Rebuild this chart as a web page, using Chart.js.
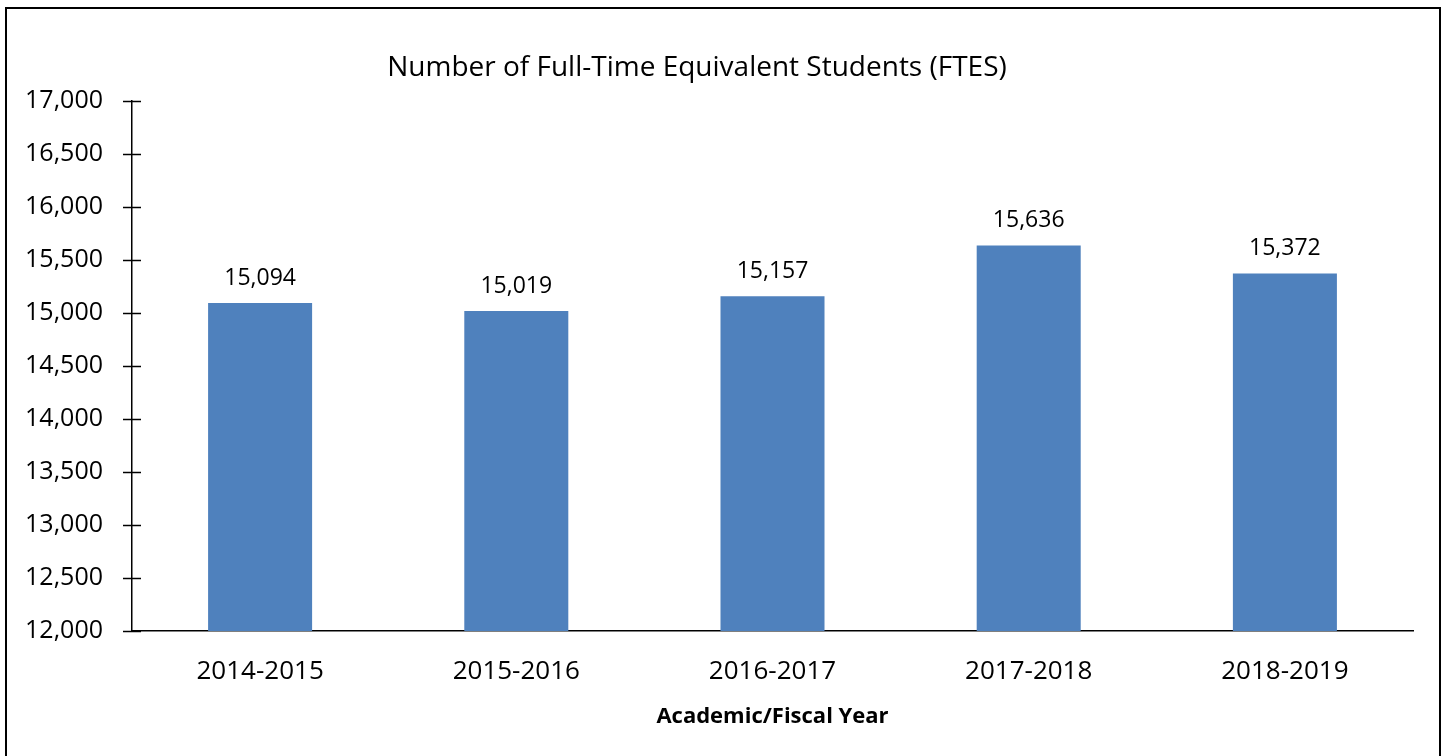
<!DOCTYPE html>
<html>
<head>
<meta charset="utf-8">
<script src="https://cdn.jsdelivr.net/npm/chart.js@4"></script>
<style>
    body { margin: 0; background: #fff; overflow: hidden; }
    #frame {
        position: absolute; left: 5px; top: 7px;
        width: 1436px; height: 760px;
        border: 2px solid #000; box-sizing: border-box;
    }
    #wrap { position: absolute; left: 0; top: 0; width: 1449px; height: 756px; }
</style>
</head>
<body>
<div id="frame"></div>
<div id="wrap"><canvas id="ftesChart"></canvas></div>
<script>
// 数据
const years = ['2014-2015', '2015-2016', '2016-2017', '2017-2018', '2018-2019'];
const ftes = [15094, 15019, 15157, 15636, 15372];
const yMin = 12000;
const yMax = 17000;
const yStep = 500;

const chartTitle = 'Number of Full-Time Equivalent Students (FTES)';
const xTitle = 'Academic/Fiscal Year';
const fontFamily = '"Open Sans", "Noto Sans", sans-serif';

// 格式化数字
function fmt(v) {
    return v.toLocaleString('en-US');
}

// 自定义绘制: 标题, 刻度交叉线, 数值标签
const extras = {
    id: 'extras',
    afterDraw(chart) {
        const ctx = chart.ctx;
        const yScale = chart.scales.y;
        const area = chart.chartArea;
        ctx.save();

        // 标题
        ctx.fillStyle = '#000';
        ctx.font = '28px ' + fontFamily;
        ctx.textAlign = 'center';
        ctx.textBaseline = 'middle';
        ctx.fillText(chartTitle, 697, 68);

        // y轴交叉刻度
        ctx.strokeStyle = '#000';
        ctx.lineWidth = 1.5;
        yScale.ticks.forEach(t => {
            const y = Math.round(yScale.getPixelForValue(t.value)) + 0.5;
            ctx.beginPath();
            ctx.moveTo(area.left - 9, y);
            ctx.lineTo(area.left + 9, y);
            ctx.stroke();
        });

        // 数值标签
        ctx.font = '23px ' + fontFamily;
        const meta = chart.getDatasetMeta(0);
        meta.data.forEach((bar, i) => {
            ctx.fillText(fmt(ftes[i]), bar.x, bar.y - 25);
        });
        ctx.restore();
    }
};

const ctx = document.getElementById('ftesChart').getContext('2d');
const ftesChart = new Chart(ctx, {
    type: 'bar',
    data: {
        labels: years,
        datasets: [{
            data: ftes,
            backgroundColor: '#4F81BD',
            barPercentage: 0.406,
            categoryPercentage: 1
        }]
    },
    options: {
        responsive: true,
        maintainAspectRatio: false,
        animation: false,
        layout: { padding: { top: 101, right: 36, left: 0, bottom: 0 } },
        plugins: {
            legend: { display: false },
            tooltip: { enabled: false }
        },
        scales: {
            x: {
                grid: { display: false, drawTicks: false },
                border: { display: true, color: '#000', width: 1.5 },
                ticks: {
                    color: '#000',
                    padding: 25,
                    font: { family: fontFamily, size: 26 }
                },
                title: {
                    display: true,
                    text: xTitle,
                    color: '#000',
                    font: { family: fontFamily, size: 22, weight: 'bold' },
                    padding: { top: 20, bottom: 26 }
                },
                afterFit(scale) { scale.height = 125; }
            },
            y: {
                min: yMin,
                max: yMax,
                grid: { display: false, drawTicks: false },
                border: { display: true, color: '#000', width: 1.5 },
                ticks: {
                    stepSize: yStep,
                    color: '#000',
                    padding: 29,
                    font: { family: fontFamily, size: 25 },
                    callback: v => fmt(v)
                },
                afterFit(scale) { scale.width = 132; }
            }
        }
    },
    plugins: [extras]
});
</script>
</body>
</html>
